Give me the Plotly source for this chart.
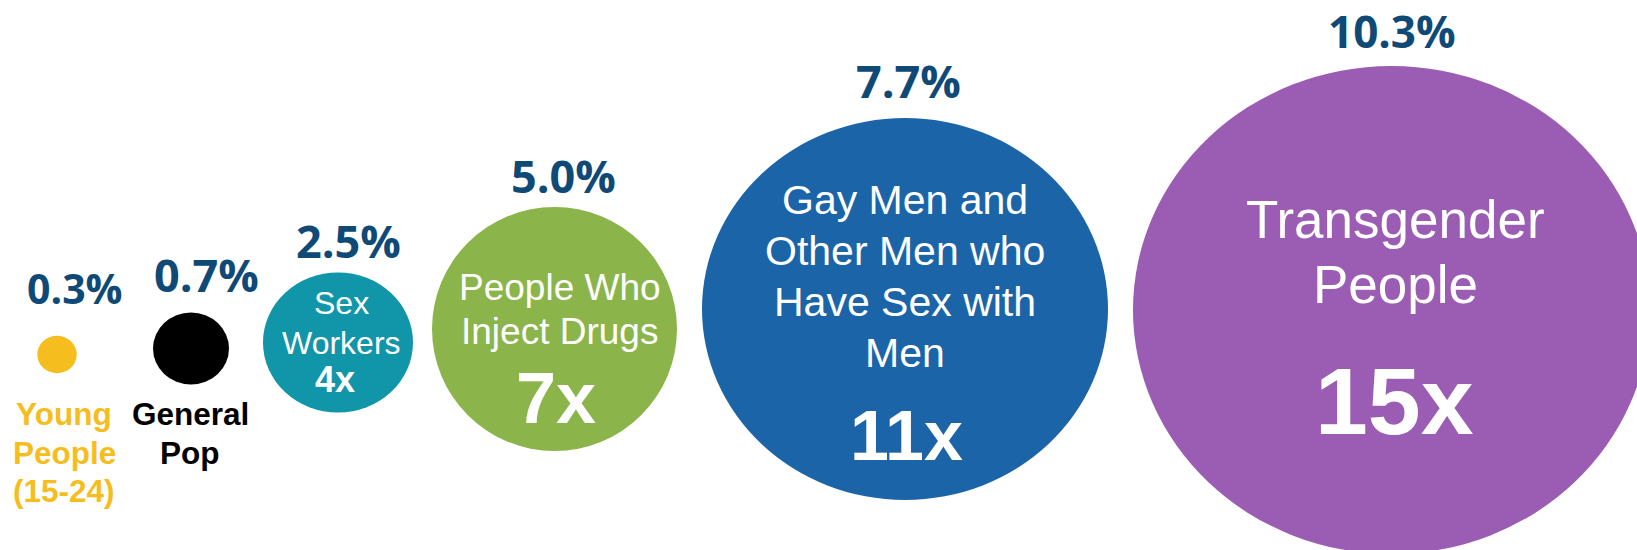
import plotly.graph_objects as go

# ---------------- data ----------------
groups = ["Young People (15-24)", "General Pop", "Sex Workers",
          "People Who Inject Drugs",
          "Gay Men and Other Men who Have Sex with Men",
          "Transgender People"]
prevalence = [0.3, 0.7, 2.5, 5.0, 7.7, 10.3]          # HIV prevalence, %
multiplier = [None, None, 4, 7, 11, 15]                 # times general pop
label_lines = [["Young", "People", "(15-24)"],
               ["General", "Pop"],
               ["Sex", "Workers"],
               ["People Who", "Inject Drugs"],
               ["Gay Men and", "Other Men who", "Have Sex with", "Men"],
               ["Transgender", "People"]]

# ---------------- layout / style (pixel geometry) ----------------
W, H = 1637, 550
bubble_colors = ["#F5BD1E", "#000000", "#1095A9", "#8BB54B", "#1C64A8", "#9A5DB3"]
cx = [57, 191, 338, 554.5, 905, 1391.5]
cy = [354.5, 348.5, 342.5, 329, 309, 310]
rx = [19.7, 38, 75, 122.5, 203, 258.5]
ry = [18.7, 36, 70, 122, 191, 244]

pct_color = "#0F4A77"
pct_font = "Open Sans"
pct_size = [41, 45, 45, 45, 45, 44]
pct_x = [74.5, 206, 348.5, 563, 908.5, 1392]
pct_y = [288.5, 275.5, 241.5, 176.5, 81.5, 31.5]   # cap centre

txt_font = "Arial, Liberation Sans"
lab_size = [31.5, 31.5, 32, 37, 41, 53]
lab_color = ["#F5BD1E", "#000000", "white", "white", "white", "white"]
lab_weight = ["bold", "bold", "normal", "normal", "normal", "normal"]
lab_x = [64, 190, 341, 559.5, 905, 1395]
lab_base = [425, 425, 314, 300, 214.5, 238]    # first baseline
lab_step = [38.5, 38.5, 40, 44, 51, 65]

mul_size = [0, 0, 36, 72, 70, 95]
mul_x = [0, 0, 335, 556, 906.5, 1394.5]
mul_base = [0, 0, 392, 423, 460, 434]

fig = go.Figure()

# invisible markers for hover
fig.add_trace(go.Scatter(
    x=cx, y=cy, mode="markers",
    marker=dict(size=1, opacity=0),
    customdata=[[g, p] for g, p in zip(groups, prevalence)],
    hovertemplate="%{customdata[0]}<br>%{customdata[1]:.1f}%<extra></extra>",
    showlegend=False))

shapes = []
annotations = []
for i in range(len(groups)):
    shapes.append(dict(type="circle", xref="x", yref="y",
                       x0=cx[i] - rx[i], x1=cx[i] + rx[i],
                       y0=cy[i] - ry[i], y1=cy[i] + ry[i],
                       fillcolor=bubble_colors[i], line=dict(width=0),
                       layer="below"))
    # prevalence label
    annotations.append(dict(
        x=pct_x[i], y=pct_y[i] - 0.02 * pct_size[i], xref="x", yref="y",
        text=f"{prevalence[i]:.1f}%", showarrow=False,
        xanchor="center", yanchor="middle",
        font=dict(family=pct_font, size=pct_size[i], color=pct_color, weight="bold")))
    # group label lines
    for j, line in enumerate(label_lines[i]):
        base = lab_base[i] + j * lab_step[i]
        annotations.append(dict(
            x=lab_x[i], y=base - 0.3465 * lab_size[i], xref="x", yref="y",
            text=line, showarrow=False, xanchor="center", yanchor="middle",
            font=dict(family=txt_font, size=lab_size[i], color=lab_color[i],
                      weight=lab_weight[i])))
    # multiplier
    if multiplier[i] is not None:
        annotations.append(dict(
            x=mul_x[i], y=mul_base[i] - 0.3465 * mul_size[i], xref="x", yref="y",
            text=f"{multiplier[i]}x", showarrow=False,
            xanchor="center", yanchor="middle",
            font=dict(family=txt_font, size=mul_size[i], color="white", weight="bold")))

fig.update_layout(
    width=W, height=H,
    margin=dict(l=0, r=0, t=0, b=0, pad=0),
    paper_bgcolor="white", plot_bgcolor="white",
    xaxis=dict(range=[0, W], visible=False, fixedrange=True),
    yaxis=dict(range=[H, 0], visible=False, fixedrange=True),
    shapes=shapes, annotations=annotations,
    showlegend=False,
)

fig.write_html("out.html",
               config={"displayModeBar": False},
               post_script="document.body.style.margin='0';"
                           "document.body.style.overflow='hidden';")
